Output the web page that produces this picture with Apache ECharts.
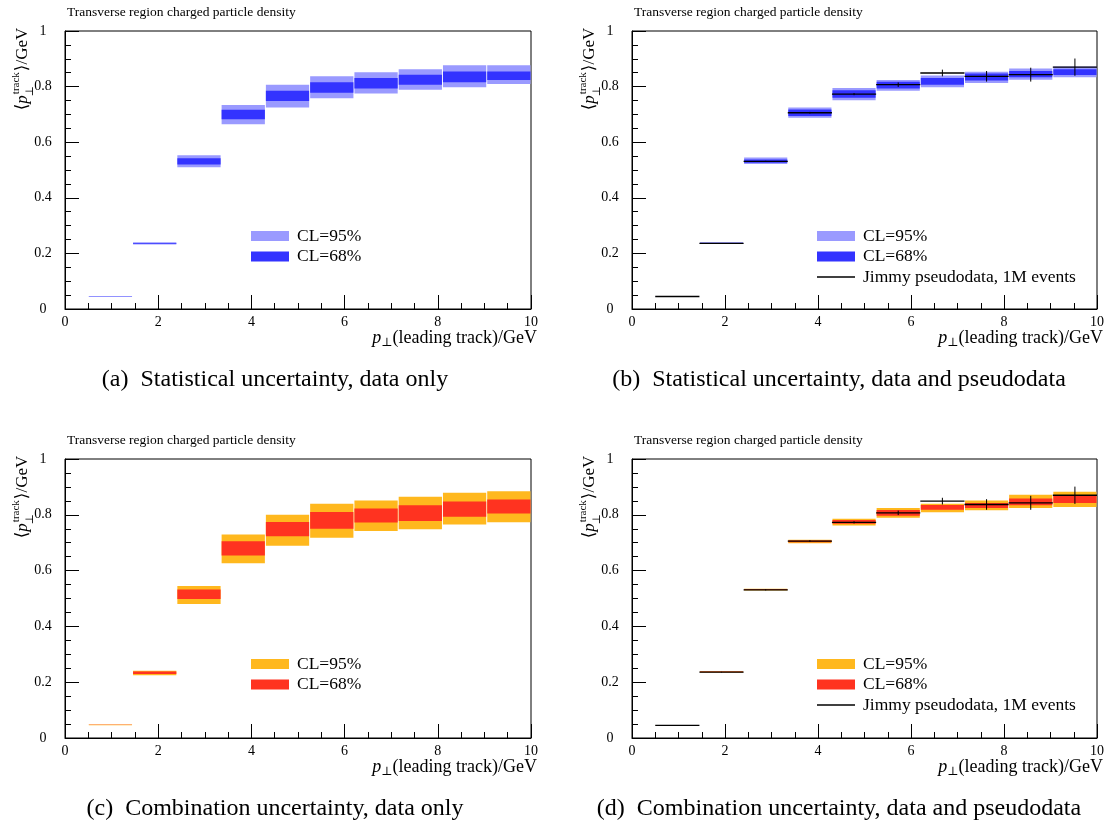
<!DOCTYPE html>
<html>
<head>
<meta charset="utf-8">
<script src="https://cdn.jsdelivr.net/npm/echarts@6/dist/echarts.min.js"></script>
<style>html,body{margin:0;padding:0;background:#fff}#c{width:1112px;height:832px}</style>
</head>
<body>
<div id="c"></div>
<script>
// ---- data ----
const binEdges = [0.5, 1.45, 2.4, 3.35, 4.3, 5.25, 6.2, 7.15, 8.1, 9.05, 10.0];
const xTicks = [0, 2, 4, 6, 8, 10];
const yTicks = [0, 0.2, 0.4, 0.6, 0.8, 1];

// (a) statistical, data only
const aLo95 = [0.0445, 0.232, 0.510, 0.665, 0.725, 0.758, 0.775, 0.789, 0.798, 0.809];
const aHi95 = [0.0465, 0.240, 0.553, 0.734, 0.807, 0.837, 0.852, 0.862, 0.877, 0.877];
const aLo68 = [0.0451, 0.2345, 0.520, 0.683, 0.748, 0.778, 0.793, 0.807, 0.816, 0.824];
const aHi68 = [0.0459, 0.2375, 0.542, 0.717, 0.785, 0.816, 0.831, 0.843, 0.854, 0.854];
// (b) statistical, data and pseudodata
const bLo95 = [0.0445, 0.234, 0.522, 0.688, 0.751, 0.785, 0.798, 0.813, 0.825, 0.834];
const bHi95 = [0.0465, 0.239, 0.545, 0.725, 0.795, 0.824, 0.840, 0.853, 0.865, 0.872];
const bLo68 = [0.0450, 0.235, 0.526, 0.694, 0.760, 0.793, 0.807, 0.822, 0.834, 0.842];
const bHi68 = [0.0460, 0.238, 0.538, 0.718, 0.787, 0.817, 0.831, 0.847, 0.856, 0.862];
// (c) combination, data only
const cLo95 = [0.0460, 0.225, 0.480, 0.626, 0.689, 0.718, 0.742, 0.748, 0.765, 0.773];
const cHi95 = [0.0480, 0.241, 0.545, 0.729, 0.800, 0.840, 0.851, 0.865, 0.879, 0.884];
const cLo68 = [0.0465, 0.229, 0.498, 0.654, 0.723, 0.750, 0.772, 0.778, 0.793, 0.805];
const cHi68 = [0.0475, 0.238, 0.532, 0.705, 0.774, 0.810, 0.823, 0.834, 0.848, 0.855];
// (d) combination, data and pseudodata
const dLo95 = [0.0430, 0.235, 0.529, 0.698, 0.762, 0.789, 0.809, 0.816, 0.824, 0.828];
const dHi95 = [0.0450, 0.239, 0.535, 0.711, 0.786, 0.824, 0.840, 0.851, 0.872, 0.883];
const dLo68 = [0.0435, 0.236, 0.5305, 0.702, 0.768, 0.797, 0.818, 0.824, 0.834, 0.842];
const dHi68 = [0.0445, 0.238, 0.5335, 0.708, 0.781, 0.817, 0.835, 0.842, 0.858, 0.870];
// Jimmy pseudodata, 1M events
const jimmyVal = [0.045, 0.236, 0.531, 0.706, 0.773, 0.807, 0.849, 0.837, 0.843, 0.870];
const jimmyErr = [0.0005, 0.001, 0.002, 0.003, 0.004, 0.008, 0.012, 0.019, 0.025, 0.031];

const panelTitle = 'Transverse region charged particle density';
const captions = [
  '(a)  Statistical uncertainty, data only',
  '(b)  Statistical uncertainty, data and pseudodata',
  '(c)  Combination uncertainty, data only',
  '(d)  Combination uncertainty, data and pseudodata'
];
const legendNames = {
  '95': 'CL=95%',
  '68': 'CL=68%',
  'J': 'Jimmy pseudodata, 1M events'
};

// ---- layout / style ----
const SERIF = '"Liberation Serif", "DejaVu Serif", serif';
const col = {
  blue95: '#9a9aff', blue68: '#3333ff',
  orange95: '#ffb81e', red68: '#ff3320'
};
const grids = [
  {left: 65, top: 31, width: 466, height: 278},
  {left: 632, top: 31, width: 465, height: 278},
  {left: 65, top: 459, width: 466, height: 279},
  {left: 632, top: 459, width: 465, height: 279}
];

const mctx = document.createElement('canvas').getContext('2d');
function tw(text, size, style) {
  mctx.font = (style || '') + ' ' + size + 'px ' + SERIF;
  return mctx.measureText(text).width;
}

function bandRows(lo, hi) {
  return lo.map((v, i) => [binEdges[i], binEdges[i + 1], v, hi[i]]);
}
function jimmyRows() {
  return jimmyVal.map((v, i) => [binEdges[i], binEdges[i + 1], v, jimmyErr[i]]);
}
function renderBand(params, api) {
  const p1 = api.coord([api.value(0), api.value(3)]);
  const p2 = api.coord([api.value(1), api.value(2)]);
  return {
    type: 'rect',
    shape: {x: p1[0] + 0.5, y: p1[1], width: p2[0] - p1[0] - 1, height: p2[1] - p1[1]},
    style: {fill: api.visual('color')}
  };
}
function renderJimmy(params, api) {
  const x0 = api.value(0), x1 = api.value(1), v = api.value(2), e = api.value(3);
  const a = api.coord([x0, v]), b = api.coord([x1, v]);
  const m = (x0 + x1) / 2;
  const t = api.coord([m, v + e]), bt = api.coord([m, v - e]);
  return {
    type: 'group',
    children: [
      {type: 'line', shape: {x1: a[0], y1: a[1], x2: b[0], y2: b[1]}, style: {stroke: '#000', lineWidth: 1.3}},
      {type: 'line', shape: {x1: t[0], y1: t[1], x2: bt[0], y2: bt[1]}, style: {stroke: '#000', lineWidth: 1}}
    ]
  };
}

// y-axis name as a rotated group with stacked super/subscript
function yNameGroup(cx, cy) {
  const F = 17, f = 11;
  const w1 = tw('⟨', F), w2 = tw('p', F, 'italic'), w3 = tw('track', f), w4 = tw('⟩/GeV', F);
  const W = w1 + w2 + 1 + w3 + 1 + w4;
  const base = {fontFamily: SERIF, fill: '#000', verticalAlign: 'middle', align: 'left'};
  return {
    type: 'group', x: cx, y: cy + W / 2, rotation: Math.PI / 2,
    children: [
      {type: 'text', x: 0, y: 0, style: Object.assign({}, base, {text: '⟨', fontSize: F})},
      {type: 'text', x: w1, y: 0, style: Object.assign({}, base, {text: 'p', fontSize: F, fontStyle: 'italic'})},
      {type: 'text', x: w1 + w2 + 1, y: -7, style: Object.assign({}, base, {text: 'track', fontSize: f})},
      {type: 'text', x: w1 + w2 - 1, y: 7, style: Object.assign({}, base, {text: '⊥', fontSize: f})},
      {type: 'text', x: w1 + w2 + 2 + w3, y: 0, style: Object.assign({}, base, {text: '⟩/GeV', fontSize: F})}
    ]
  };
}

const panels = [
  {key: 'a', lo95: aLo95, hi95: aHi95, lo68: aLo68, hi68: aHi68, c95: col.blue95, c68: col.blue68, jimmy: false},
  {key: 'b', lo95: bLo95, hi95: bHi95, lo68: bLo68, hi68: bHi68, c95: col.blue95, c68: col.blue68, jimmy: true},
  {key: 'c', lo95: cLo95, hi95: cHi95, lo68: cLo68, hi68: cHi68, c95: col.orange95, c68: col.red68, jimmy: false},
  {key: 'd', lo95: dLo95, hi95: dHi95, lo68: dLo68, hi68: dHi68, c95: col.orange95, c68: col.red68, jimmy: true}
];

const xAxes = [], yAxes = [], series = [], legends = [], graphics = [];
panels.forEach((p, i) => {
  const g = grids[i];
  xAxes.push({
    type: 'value', gridIndex: i, min: xTicks[0], max: xTicks[xTicks.length - 1], interval: 2,
    axisLine: {lineStyle: {color: '#000', width: 1}},
    axisTick: {inside: true, length: 14, lineStyle: {color: '#000', width: 1}},
    minorTick: {show: true, splitNumber: 4, length: 6, lineStyle: {color: '#000', width: 1}},
    splitLine: {show: false},
    axisLabel: {color: '#000', fontFamily: SERIF, fontSize: 14, margin: 6}
  });
  yAxes.push({
    type: 'value', gridIndex: i, min: yTicks[0], max: yTicks[yTicks.length - 1], interval: 0.2,
    axisLine: {lineStyle: {color: '#000', width: 1}},
    axisTick: {inside: true, length: 14, lineStyle: {color: '#000', width: 1}},
    minorTick: {show: true, splitNumber: 4, length: 6, lineStyle: {color: '#000', width: 1}},
    splitLine: {show: false},
    axisLabel: {color: '#000', fontFamily: SERIF, fontSize: 14, margin: 22, align: 'center'}
  });
  series.push({
    type: 'custom', name: p.key + '95', xAxisIndex: i, yAxisIndex: i,
    itemStyle: {color: p.c95}, encode: {x: [0, 1], y: [2, 3]},
    data: bandRows(p.lo95, p.hi95), renderItem: renderBand, clip: true, silent: true
  });
  series.push({
    type: 'custom', name: p.key + '68', xAxisIndex: i, yAxisIndex: i,
    itemStyle: {color: p.c68}, encode: {x: [0, 1], y: [2, 3]},
    data: bandRows(p.lo68, p.hi68), renderItem: renderBand, clip: true, silent: true
  });
  const ldata = [p.key + '95', p.key + '68'];
  if (p.jimmy) {
    series.push({
      type: 'custom', name: p.key + 'J', xAxisIndex: i, yAxisIndex: i,
      itemStyle: {color: '#000'}, encode: {x: [0, 1], y: 2},
      data: jimmyRows(), renderItem: renderJimmy, clip: true, silent: true, z: 5
    });
    ldata.push({name: p.key + 'J', icon: 'path://M0,0H38V1.3H0Z'});
  }
  legends.push({
    left: g.left + (i % 2 === 0 ? 186 : 185), top: g.top + 196, padding: 0,
    orient: 'vertical', itemWidth: 38, itemHeight: 10, itemGap: 2.5,
    icon: 'rect', selectedMode: false, symbolKeepAspect: true,
    data: ldata,
    formatter: n => legendNames[n.slice(1)],
    textStyle: {fontFamily: SERIF, fontSize: 17.5, lineHeight: 18, color: '#000', padding: [0, 0, 0, 3]}
  });
  // panel title
  graphics.push({
    type: 'text', left: g.left + 2, top: g.top - 26,
    style: {text: panelTitle, fontFamily: SERIF, fontSize: 13.5, fill: '#000'}
  });
  // x axis name
  graphics.push({
    type: 'text', right: 1112 - (g.left + g.width) - 6, top: g.top + g.height + 20,
    style: {
      text: '{p|p}{s|⊥}{n|(leading track)/GeV}',
      rich: {
        p: {fontFamily: SERIF, fontSize: 18, fontStyle: 'italic', lineHeight: 22},
        s: {fontFamily: SERIF, fontSize: 12, verticalAlign: 'bottom', lineHeight: 22},
        n: {fontFamily: SERIF, fontSize: 18, lineHeight: 22}
      },
      fill: '#000'
    }
  });
  // y axis name
  graphics.push(yNameGroup(g.left - 42, g.top + 38));
  // caption
  graphics.push({
    type: 'text', x: (i % 2 === 0 ? 275 : 839), y: g.top + g.height + 71,
    style: {text: captions[i], fontFamily: SERIF, fontSize: 24, fill: '#000', align: 'center', verticalAlign: 'middle'}
  });
});

const chart = echarts.init(document.getElementById('c'), null, {renderer: 'canvas'});
chart.setOption({
  animation: false,
  backgroundColor: '#fff',
  grid: grids.map(g => Object.assign({show: true, borderColor: '#000', borderWidth: 1, backgroundColor: 'transparent'}, g)),
  xAxis: xAxes,
  yAxis: yAxes,
  legend: legends,
  series: series,
  graphic: graphics
});
</script>
</body>
</html>
